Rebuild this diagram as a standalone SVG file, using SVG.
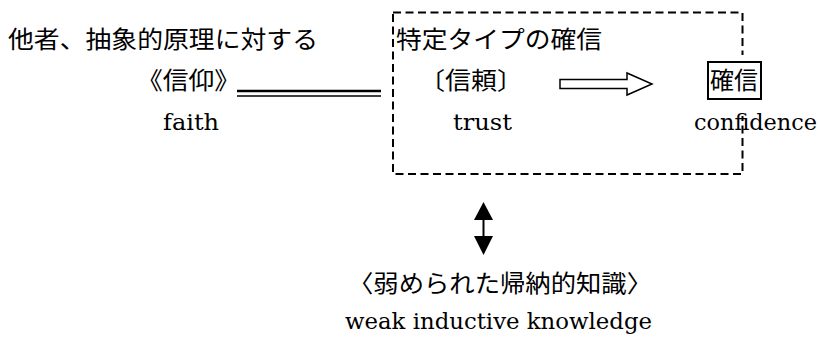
<svg xmlns="http://www.w3.org/2000/svg" width="819" height="337" viewBox="0 0 819 337">
<style>
.jp{font-family:"Noto Sans CJK JP","Noto Sans CJK SC",sans-serif;font-size:24px;fill:#000}
.en{font-family:"DejaVu Serif","Liberation Serif",serif;font-size:22px;fill:#000}
.ln{stroke:#000;fill:none}
</style>
<rect width="819" height="337" fill="#fff"/>
<g id="trust-group">
<rect x="393" y="12.5" width="349.5" height="161.5" class="ln" stroke-width="2" stroke-dasharray="8 4.5"/>
<rect x="736" y="55" width="12" height="61" fill="#fff"/>
<text class="jp" x="396" y="48" textLength="206" lengthAdjust="spacingAndGlyphs">特定タイプの確信</text>
</g>
<g id="faith">
<text class="jp" x="8" y="48" textLength="310" lengthAdjust="spacingAndGlyphs">他者、抽象的原理に対する</text>
<text class="jp" x="137" y="89" textLength="103" lengthAdjust="spacingAndGlyphs">《信仰》</text>
<text class="en" x="163" y="130" textLength="56" lengthAdjust="spacingAndGlyphs">faith</text>
</g>
<g id="trust">
<text class="jp" x="419" y="89" textLength="104" lengthAdjust="spacingAndGlyphs">〔信頼〕</text>
<text class="en" x="453" y="130" textLength="59" lengthAdjust="spacingAndGlyphs">trust</text>
</g>
<g id="confidence">
<rect x="708" y="62" width="53" height="37" class="ln" stroke-width="2"/>
<text class="jp" x="710" y="89" textLength="48" lengthAdjust="spacingAndGlyphs">確信</text>
<text class="en" x="694" y="130" textLength="123" lengthAdjust="spacingAndGlyphs">confidence</text>
</g>
<g id="weak-inductive-knowledge">
<text class="jp" x="348" y="292" textLength="304" lengthAdjust="spacingAndGlyphs">〈弱められた帰納的知識〉</text>
<text class="en" x="345" y="329" textLength="307" lengthAdjust="spacingAndGlyphs">weak inductive knowledge</text>
</g>
<g id="connectors">
<line x1="237" y1="91" x2="381" y2="91" class="ln" stroke-width="2.5"/>
<line x1="237" y1="96" x2="381" y2="96" class="ln" stroke-width="1.5"/>
<polygon points="560,79.5 627,79.5 627,73 652,84 627,95 627,88.5 560,88.5" fill="#fff" stroke="#000" stroke-width="1.5"/>
<line x1="483.5" y1="215" x2="483.5" y2="241" class="ln" stroke-width="2"/>
<polygon points="474,220 493,220 483.5,202" fill="#000"/>
<polygon points="474,236 493,236 483.5,255" fill="#000"/>
</g>
</svg>
